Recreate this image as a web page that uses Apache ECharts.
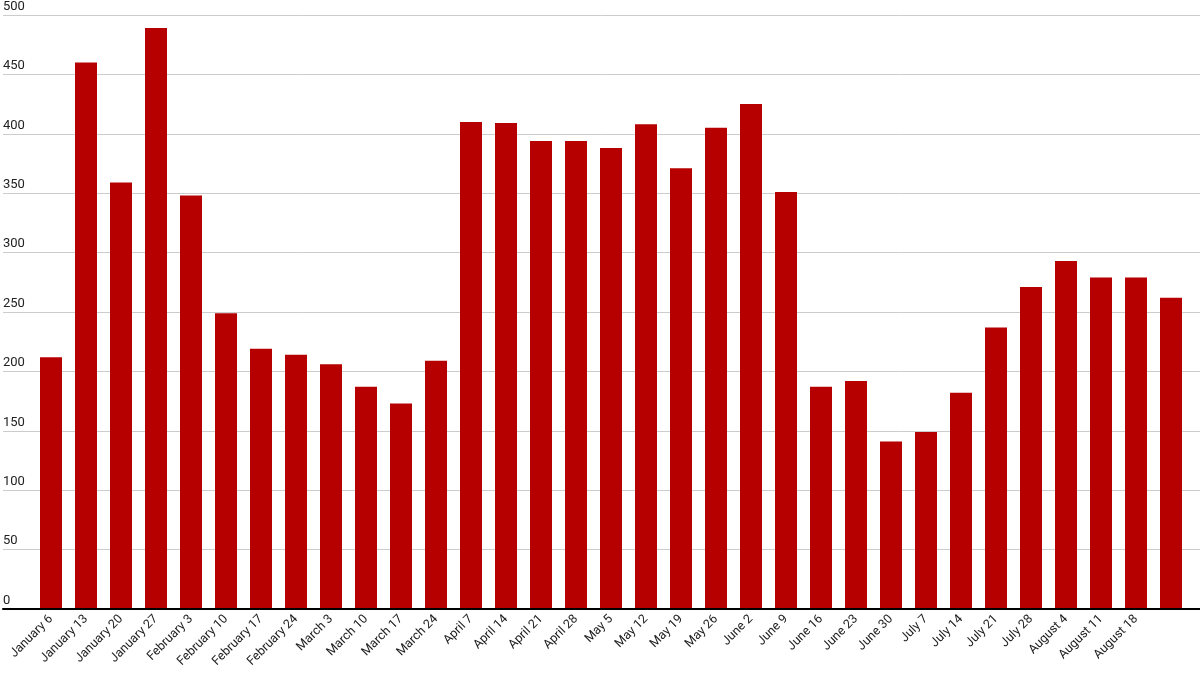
<!DOCTYPE html>
<html>
<head>
<meta charset="utf-8">
<script src="https://cdn.jsdelivr.net/npm/echarts@6/dist/echarts.min.js"></script>
<style>
  html, body { margin: 0; padding: 0; background: #fff; }
  #chart { width: 1200px; height: 675px; }
</style>
</head>
<body>
<div id="chart"></div>
<script>
const categories = [
  'January 6', 'January 13', 'January 20', 'January 27',
  'February 3', 'February 10', 'February 17', 'February 24',
  'March 3', 'March 10', 'March 17', 'March 24',
  'April 7', 'April 14', 'April 21', 'April 28',
  'May 5', 'May 12', 'May 19', 'May 26',
  'June 2', 'June 9', 'June 16', 'June 23', 'June 30',
  'July 7', 'July 14', 'July 21', 'July 28',
  'August 4', 'August 11', 'August 18', 'August 25'
];
const values = [
  212, 460, 359, 489,
  348, 249, 219, 214,
  206, 187, 173, 209,
  410, 409, 394, 394,
  388, 408, 371, 405,
  425, 351, 187, 192, 141,
  149, 182, 237, 271,
  293, 279, 279, 262
];
const yMin = 0, yMax = 500, yStep = 50;

const chart = echarts.init(document.getElementById('chart'));
const textColor = '#222';
chart.setOption({
  animation: false,
  backgroundColor: '#ffffff',
  textStyle: { fontFamily: 'Roboto, Arial, sans-serif' },
  grid: [
    { left: 0, right: 0, top: 15, bottom: 66, containLabel: false },
    { left: 33.5, right: 11.5, top: 15, bottom: 66, containLabel: false }
  ],
  xAxis: [
    {
      gridIndex: 0, type: 'value', min: 0, max: 1, z: 5,
      axisLine: { show: true, onZero: false, lineStyle: { color: '#000', width: 2 } },
      axisTick: { show: false }, axisLabel: { show: false }, splitLine: { show: false }
    },
    {
      gridIndex: 1, type: 'category', data: categories,
      axisLine: { show: false }, axisTick: { show: false },
      axisLabel: {
        rotate: 45, margin: 8, fontSize: 12.5, color: textColor,
        interval: function (idx) { return idx < categories.length - 1; }
      }
    }
  ],
  yAxis: [
    {
      gridIndex: 0, type: 'value', min: yMin, max: yMax, interval: yStep,
      axisLine: { show: false }, axisTick: { show: false },
      splitLine: { show: true, lineStyle: { color: '#cccccc', width: 1 } },
      axisLabel: {
        margin: 0, align: 'left', verticalAlign: 'bottom',
        fontSize: 13, color: textColor, padding: [0, 0, 2, 0]
      }
    },
    {
      gridIndex: 1, type: 'value', min: yMin, max: yMax, interval: yStep, show: false,
      splitLine: { show: false }
    }
  ],
  series: [{
    type: 'bar', xAxisIndex: 1, yAxisIndex: 1,
    data: values, barWidth: 22,
    itemStyle: { color: '#b60000' }
  }]
});
</script>
</body>
</html>
